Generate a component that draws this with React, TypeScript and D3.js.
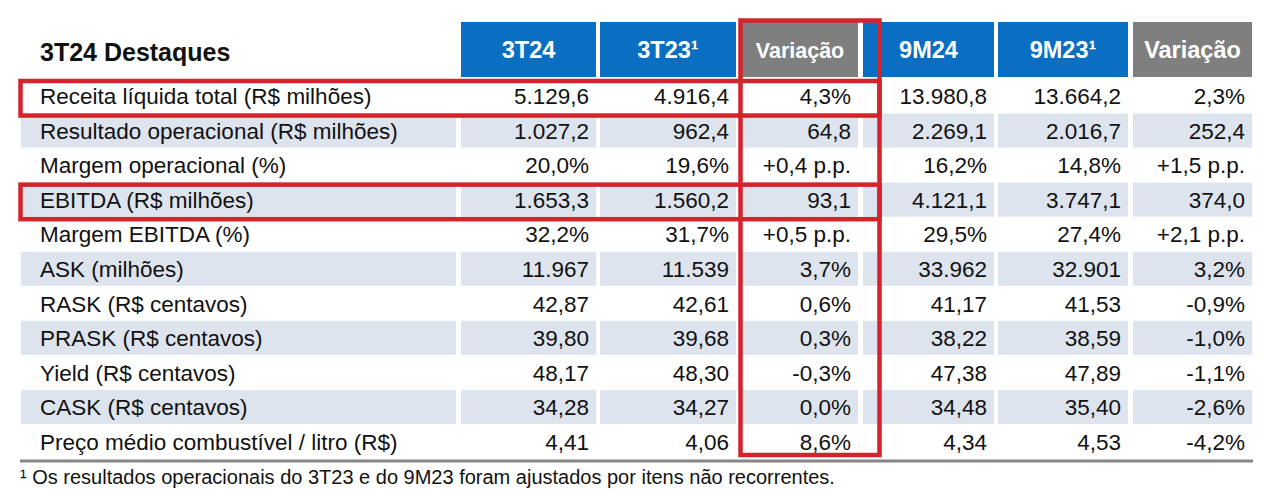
import * as d3 from "d3";

// table content
const title = "3T24 Destaques";
const headers = ["3T24", "3T23¹", "Variação", "9M24", "9M23¹", "Variação"];
const rowLabels = [
  "Receita líquida total (R$ milhões)",
  "Resultado operacional (R$ milhões)",
  "Margem operacional (%)",
  "EBITDA (R$ milhões)",
  "Margem EBITDA (%)",
  "ASK (milhões)",
  "RASK (R$ centavos)",
  "PRASK (R$ centavos)",
  "Yield (R$ centavos)",
  "CASK (R$ centavos)",
  "Preço médio combustível / litro (R$)",
];
const q3_24 = ["5.129,6", "1.027,2", "20,0%", "1.653,3", "32,2%", "11.967", "42,87", "39,80", "48,17", "34,28", "4,41"];
const q3_23 = ["4.916,4", "962,4", "19,6%", "1.560,2", "31,7%", "11.539", "42,61", "39,68", "48,30", "34,27", "4,06"];
const varQ = ["4,3%", "64,8", "+0,4 p.p.", "93,1", "+0,5 p.p.", "3,7%", "0,6%", "0,3%", "-0,3%", "0,0%", "8,6%"];
const m9_24 = ["13.980,8", "2.269,1", "16,2%", "4.121,1", "29,5%", "33.962", "41,17", "38,22", "47,38", "34,48", "4,34"];
const m9_23 = ["13.664,2", "2.016,7", "14,8%", "3.747,1", "27,4%", "32.901", "41,53", "38,59", "47,89", "35,40", "4,53"];
const varM = ["2,3%", "252,4", "+1,5 p.p.", "374,0", "+2,1 p.p.", "3,2%", "-0,9%", "-1,0%", "-1,1%", "-2,6%", "-4,2%"];
const highlightedRows = ["Receita líquida total (R$ milhões)", "EBITDA (R$ milhões)"];
const footnote = "¹ Os resultados operacionais do 3T23 e do 9M23 foram ajustados por itens não recorrentes.";

const columns = [q3_24, q3_23, varQ, m9_24, m9_23, varM];

// layout
const W = 1270, H = 490;
const labelCol: [number, number] = [21, 456];
const colEdges: [number, number][] = [[461, 596], [600, 736], [742, 858], [863, 994], [998, 1128], [1133, 1252]];
const headerFill = ["#0a6fc2", "#0a6fc2", "#7f7f7f", "#0a6fc2", "#0a6fc2", "#7f7f7f"];
const FONT = "'Liberation Sans', Arial, sans-serif";
const RED = "#d3242c";
const SHADE = "#dde4ee";

export default function App() {
  const y = d3.scaleBand<string>().domain(rowLabels).range([79, 459]).padding(0);
  const bw = y.bandwidth();
  const fs = 22.5;
  const last = rowLabels[rowLabels.length - 1];

  return (
    <svg width={W} height={H} style={{ position: "absolute", left: 0, top: 0, background: "#fff" }} fontFamily={FONT}>
      {/* title */}
      <text x={40} y={61} fontSize={25} fontWeight="bold" fill="#111">{title}</text>

      {/* header cells */}
      {headers.map((h, i) => {
        const [x0, x1] = colEdges[i];
        return (
          <g key={"h" + i}>
            <rect x={x0} y={22} width={x1 - x0} height={55} fill={headerFill[i]} />
            <text x={(x0 + x1) / 2} y={58} textAnchor="middle" fontSize={i === 2 ? 21.5 : 23.5} fontWeight="bold" fill="#fff">{h}</text>
          </g>
        );
      })}

      {/* shaded rows */}
      {rowLabels.map((r, i) => i % 2 === 1 ? (
        <g key={"s" + i}>
          <rect x={labelCol[0]} y={y(r)!} width={labelCol[1] - labelCol[0]} height={bw - 0.5} fill={SHADE} />
          {colEdges.map(([x0, x1], j) => (
            <rect key={j} x={x0} y={y(r)!} width={x1 - x0} height={bw - 0.5} fill={SHADE} />
          ))}
        </g>
      ) : null)}

      {/* row text */}
      {rowLabels.map((r, i) => {
        const ty = y(r)! + bw / 2 + fs * 0.355;
        return (
          <g key={"r" + i} fontSize={fs} fill="#111">
            <text x={40} y={ty}>{r}</text>
            {columns.map((col, j) => (
              <text key={j} x={colEdges[j][1] - 7} y={ty} textAnchor="end">{col[i]}</text>
            ))}
          </g>
        );
      })}

      {/* bottom rule */}
      <line x1={20} x2={1253} y1={461} y2={461} stroke="#858585" strokeWidth={3} />

      {/* footnote */}
      <text x={20} y={484} fontSize={20} fill="#111">{footnote}</text>

      {/* highlight boxes */}
      <g fill="none" stroke={RED} strokeWidth={4.5}>
        {highlightedRows.map((r) => (
          <rect key={r} x={20.5} y={y(r)! + 2} width={879.5 - 20.5} height={bw} />
        ))}
        <rect x={740.5} y={20.5} width={879.5 - 740.5} height={y(last)! + bw - 4 - 20.5} />
      </g>
    </svg>
  );
}
